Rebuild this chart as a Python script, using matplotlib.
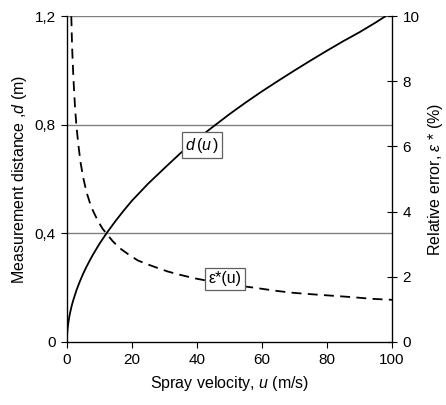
import matplotlib
matplotlib.use("Agg")
import matplotlib.pyplot as plt

plt.rcParams['font.family'] = ['Liberation Sans', 'DejaVu Sans']
plt.rcParams['mathtext.fontset'] = 'custom'
plt.rcParams['mathtext.rm'] = 'Liberation Sans'
plt.rcParams['mathtext.it'] = 'Liberation Sans:italic'

u_d = [0, 0.05, 0.1, 0.2, 0.3, 0.5, 0.75, 1, 1.5, 2, 3, 4, 5, 6, 7, 8, 10,
       12.3, 15, 17.5, 20, 25, 30, 35, 40, 44, 50, 55, 60, 65, 70, 75, 80,
       85, 90, 95, 98]
d = [0, 0.022, 0.032, 0.046, 0.057, 0.075, 0.093, 0.108, 0.134, 0.155,
     0.192, 0.223, 0.251, 0.276, 0.299, 0.321, 0.361, 0.402, 0.446, 0.484,
     0.52, 0.583, 0.64, 0.696, 0.746, 0.784, 0.839, 0.882, 0.923, 0.962,
     1.0, 1.037, 1.073, 1.108, 1.141, 1.177, 1.2]

# relative error eps*(u) in %
u_e = [1.35, 1.6, 2, 2.5, 2.9, 3.5, 4.2, 5, 6, 7, 8, 9.5, 11, 12.3, 14,
       16.2, 19, 21.8, 24, 27, 31, 34.7, 39.3, 44, 50, 57.8, 64, 69, 74,
       82.4, 88, 93.8, 100]
eps = [10, 9.05, 8.1, 7.2, 6.67, 6.07, 5.51, 5.05, 4.61, 4.29, 4.03, 3.72,
       3.47, 3.31, 3.10, 2.88, 2.68, 2.5, 2.41, 2.3, 2.16, 2.06, 1.95, 1.86,
       1.76, 1.66, 1.57, 1.51, 1.47, 1.41, 1.37, 1.32, 1.29]

d_ticks = [0, 0.4, 0.8, 1.2]
d_labels = ['0', '0,4', '0,8', '1,2']
e_ticks = [0, 2, 4, 6, 8, 10]
u_ticks = [0, 20, 40, 60, 80, 100]

fig = plt.figure(figsize=(4.46, 4.05), dpi=100)
ax = fig.add_axes([0.150, 0.156, 0.729, 0.804])
ax2 = ax.twinx()

for y in [0.4, 0.8, 1.2]:
    ax.axhline(y, color='#808080', lw=1.0, zorder=1)

ax.plot(u_d, d, color='black', lw=1.3, zorder=3)
ax2.plot(u_e, eps, color='black', lw=1.3, linestyle=(0, (5.5, 3.5)), zorder=3)

ax.set_xlim(0, 100)
ax.set_ylim(0, 1.2)
ax2.set_ylim(0, 10)
ax.set_xticks(u_ticks)
ax.set_yticks(d_ticks)
ax.set_yticklabels(d_labels)
ax2.set_yticks(e_ticks)

for a in (ax, ax2):
    a.spines['top'].set_visible(False)
    a.tick_params(colors='black', labelsize=11, width=0.8, length=4, pad=4)
ax.tick_params(axis='both', direction='out')
ax2.tick_params(axis='y', direction='inout', length=7)
ax.spines['left'].set_linewidth(0.9)
ax.spines['bottom'].set_linewidth(0.9)
ax2.spines['right'].set_linewidth(0.9)

ax.set_xlabel('Spray velocity, $u$ (m/s)', fontsize=11.5, labelpad=5)
ax.set_ylabel('Measurement distance ,$d$ (m)', fontsize=11.5, labelpad=4)
ax2.set_ylabel('Relative error, $ε$ * (%)', fontsize=11.5, labelpad=5)

box = dict(boxstyle='square,pad=0.2', fc='white', ec='#606060', lw=0.9)
ax.text(41.5, 0.725, r'$d\,(u\,)$', ha='center', va='center', fontsize=11.5,
        bbox=box, zorder=5)
ax2.text(48.6, 1.93, 'ε*(u)', ha='center', va='center', fontsize=11.5,
         bbox=box, zorder=5)

fig.savefig('out.png', dpi=100)
